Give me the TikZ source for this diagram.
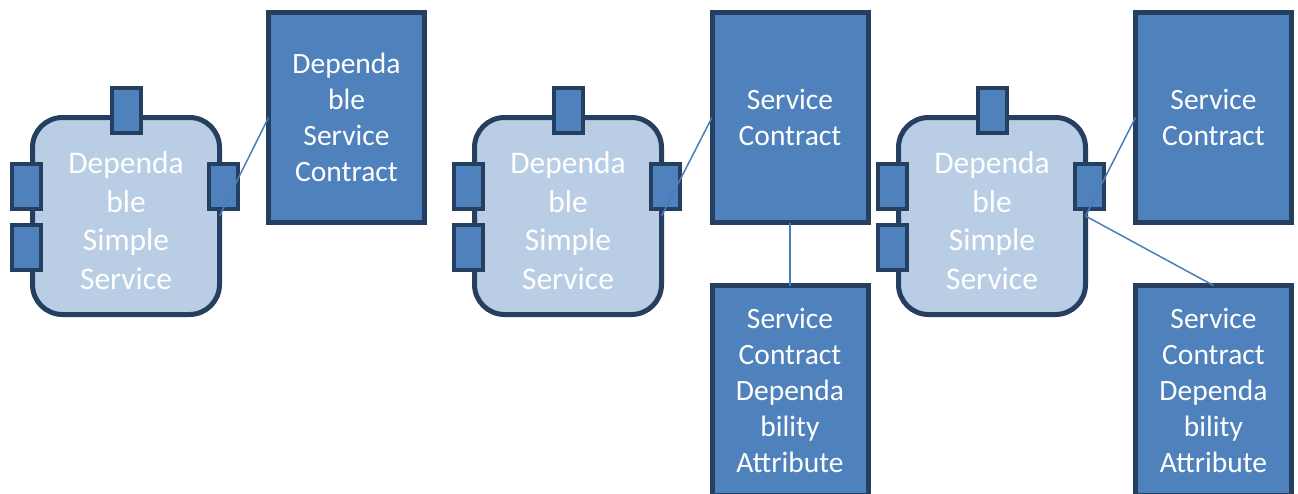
\documentclass[tikz,border=0pt]{standalone}
\usepackage{fontspec}
\setmainfont{Carlito}
\usetikzlibrary{calc}
\definecolor{edgeblue}{HTML}{243F60}
\definecolor{svcfill}{HTML}{B9CDE5}
\definecolor{boxfill}{HTML}{4F81BD}
\definecolor{linkblue}{HTML}{4A7EBB}
% taller first line pushes the service label a little lower
\newcommand{\firststrut}{\rule{0pt}{31pt}}
\begin{document}
\begin{tikzpicture}[x=1pt,y=-1pt,
  service/.style={draw=edgeblue, line width=5pt, fill=svcfill, rounded corners=30pt,
    minimum width=187pt, minimum height=197pt, inner sep=0pt, outer sep=0pt,
    text=white, align=center, font=\fontsize{31.5}{38.7}\selectfont},
  port/.style={draw=edgeblue, line width=4pt, fill=boxfill,
    minimum width=29pt, minimum height=45pt, inner sep=0pt, outer sep=0pt},
  contract/.style={draw=edgeblue, line width=5pt, fill=boxfill,
    minimum width=156pt, minimum height=210pt, inner sep=0pt, outer sep=0pt,
    text=white, align=center, font=\fontsize{29.5}{36}\selectfont},
  link/.style={draw=linkblue, line width=1.5pt}]
\useasboundingbox (0,0) rectangle (1298,493);

% services
\node[service] (s1) at (126,216) {\firststrut Dependa\\ble\\Simple\\Service};
\node[service] (s2) at (568,216) {\firststrut Dependa\\ble\\Simple\\Service};
\node[service] (s3) at (992,216) {\firststrut Dependa\\ble\\Simple\\Service};

% ports of each service
\foreach \s in {s1,s2,s3}{
  \node[port] (\s top)  at ($(\s)+(0.5,-105.5)$) {};
  \node[port] (\s l1)   at ($(\s)+(-99.5,-29.5)$) {};
  \node[port] (\s l2)   at ($(\s)+(-99.5,31.5)$) {};
  \node[port] (\s r)    at ($(\s)+(97.5,-29.5)$) {};
}

% contracts
\node[contract] (c1) at (346.5,117.5) {Dependa\\ble\\Service\\Contract};
\node[contract] (c2) at (790,117.5) {Service\\Contract};
\node[contract] (c3) at (1213.5,117.5) {Service\\Contract};

% dependability attributes
\node[contract] (a2) at (790,390.5) {Service\\Contract\\Dependa\\bility\\Attribute};
\node[contract] (a3) at (1213.5,390.5) {Service\\Contract\\Dependa\\bility\\Attribute};

% links
\draw[link] (s1.east) -- (c1.west);
\draw[link] (s2.east) -- (c2.west);
\draw[link] (s3.east) -- (c3.west);
\draw[link] (c2.south) -- (a2.north);
\draw[link] (s3.east) -- (a3.north);
\end{tikzpicture}
\end{document}
